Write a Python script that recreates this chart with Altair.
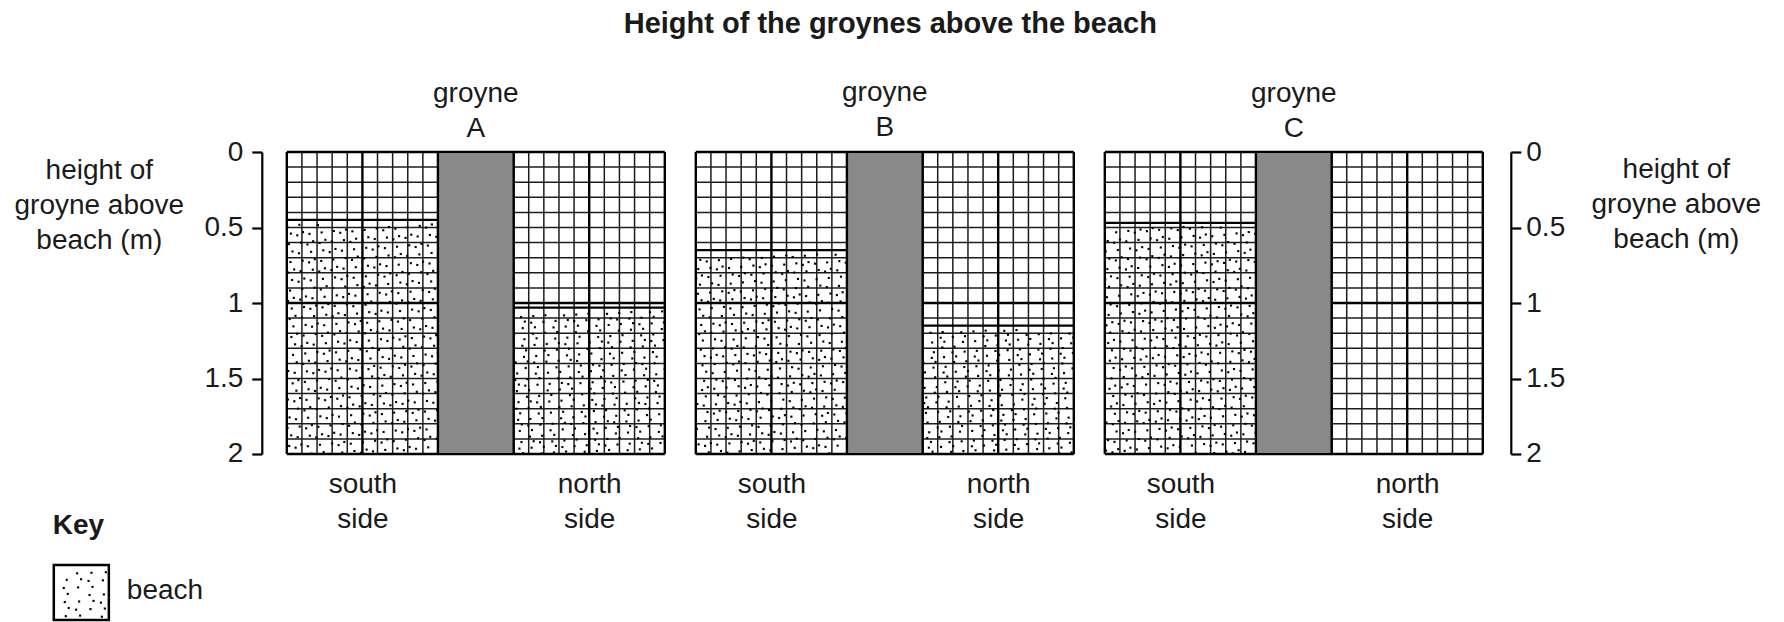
import altair as alt
import numpy as np
import pandas as pd

# ---------------- data ----------------
groynes = ["A", "B", "C"]
# height of groyne above the beach (m) on each side; None = no beach drawn
south_height = [0.45, 0.65, 0.47]
north_height = [1.03, 1.15, None]
side_names = ["south", "north"]
y_ticks = [0, 0.5, 1, 1.5, 2]
title_text = "Height of the groynes above the beach"
axis_title = ["height of", "groyne above", "beach (m)"]
key_title = "Key"
key_label = "beach"

FONT = "Liberation Sans"
TXT = "#1a1a1a"
FS = 28

# panel structure in grid-cell units (one cell = 0.1 m square)
SIDE = 10          # cells per side
GROYNE = 5         # cells for the groyne
TOTAL = 2 * SIDE + GROYNE
DEPTH = 2.0
STEP = 0.1
DENSITY = 3.0      # stipple dots per cell (texture)

xscale = alt.Scale(domain=[0, TOTAL], nice=False, zero=False)
yscale = alt.Scale(domain=[0, DEPTH], reverse=True, nice=False, zero=False)


def stipple(n, start):
    """deterministic low-discrepancy texture (R2 sequence) in the unit square"""
    g = 1.32471795724474602596
    k = np.arange(start, start + n)
    return (0.5 + k / g) % 1.0, (0.5 + k / (g * g)) % 1.0


def grid_frame():
    rows = []
    for c in range(TOTAL + 1):
        if SIDE < c < SIDE + GROYNE:
            continue
        rows.append(dict(x=c, x2=c, y=0.0, y2=DEPTH, major=(c % 5 == 0)))
    for r in range(int(round(DEPTH / STEP)) + 1):
        yv = round(r * STEP, 2)
        rows.append(dict(x=0, x2=TOTAL, y=yv, y2=yv, major=(r % 10 == 0)))
    return pd.DataFrame(rows)


def make_yaxis(i):
    common = dict(values=y_ticks, format="~g", tickSize=10, tickWidth=2.2, tickColor="black",
                  domainWidth=2.2, domainColor="black", grid=False,
                  labelFont=FONT, labelFontSize=FS, labelColor=TXT,
                  title=axis_title, titleFont=FONT, titleFontSize=FS,
                  titleFontWeight="normal", titleColor=TXT, titleAngle=0,
                  titleAlign="center", titleBaseline="middle", titleLineHeight=35.5)
    if i == 0:
        return alt.Axis(orient="left", offset=25, labelPadding=9,
                        titleX=-163, titleY=18, **common)
    if i == len(groynes) - 1:
        return alt.Axis(orient="right", offset=28, labelPadding=5,
                        titleX=165, titleY=17, **common)
    return None


XAXIS = alt.Axis(values=[SIDE / 2, SIDE + GROYNE + SIDE / 2],
                 labelExpr="datum.value < %d ? ['%s', 'side'] : ['%s', 'side']"
                 % (SIDE, side_names[0], side_names[1]),
                 ticks=False, domain=False, grid=False, tickSize=0,
                 labelFont=FONT, labelFontSize=FS, labelColor=TXT,
                 labelLineHeight=35, labelBaseline="middle", labelPadding=31,
                 title=None)


def panel(i):
    levels = [(0, south_height[i]), (SIDE + GROYNE, north_height[i])]
    grid = grid_frame()
    yaxis = make_yaxis(i)

    def X(f="x"):
        return alt.X(f + ":Q", scale=xscale, axis=XAXIS)

    def Y(f="y"):
        return alt.Y(f + ":Q", scale=yscale, axis=yaxis)

    minor = alt.Chart(grid[~grid.major]).mark_rule(color="#1c1c1c", strokeWidth=1.5).encode(
        x=X(), x2="x2:Q", y=Y(), y2="y2:Q")
    major = alt.Chart(grid[grid.major]).mark_rule(color="black", strokeWidth=2.4).encode(
        x=X(), x2="x2:Q", y=Y(), y2="y2:Q")

    dots = []
    lines = []
    for j, (x0, lev) in enumerate(levels):
        if lev is None:
            continue
        n = int(round(DENSITY * SIDE * (DEPTH - lev) / STEP))
        u, v = stipple(n, 1 + 977 * (2 * i + j))
        top = lev + 0.025
        dots.append(pd.DataFrame({"x": x0 + SIDE * u, "y": top + (DEPTH - top) * v}))
        lines.append(dict(x=x0, x2=x0 + SIDE, y=lev))
    dot_df = pd.concat(dots, ignore_index=True)
    line_df = pd.DataFrame(lines)

    dot_layer = alt.Chart(dot_df).mark_square(size=4.5, color="black", opacity=1).encode(
        x=X(), y=Y())
    surface = alt.Chart(line_df).mark_rule(color="black", strokeWidth=2.3).encode(
        x=X(), x2="x2:Q", y=Y())
    groyne_df = pd.DataFrame([dict(x=SIDE, x2=SIDE + GROYNE, y=0.0, y2=DEPTH)])
    groyne = alt.Chart(groyne_df).mark_rect(fill="#898989", stroke="black", strokeWidth=2.2).encode(
        x=X(), x2="x2:Q", y=Y(), y2="y2:Q")

    layers = [minor, major, dot_layer, surface, groyne]

    if i == 0:
        # key (legend) drawn in panel A's coordinates, below-left of the panels
        kx0, kx1, ky0, ky1 = -15.41, -11.77, 2.735, 3.099
        box = alt.Chart(pd.DataFrame([dict(x=kx0, x2=kx1, y=ky0, y2=ky1)])).mark_rect(
            fill="white", stroke="black", strokeWidth=2.5).encode(
            x=X(), x2="x2:Q", y=Y(), y2="y2:Q")
        u, v = stipple(24, 5000)
        kd = pd.DataFrame({"x": kx0 + 0.15 + (kx1 - kx0 - 0.3) * u,
                           "y": ky0 + 0.015 + (ky1 - ky0 - 0.03) * v})
        kdots = alt.Chart(kd).mark_square(size=4.5, color="black", opacity=1).encode(
            x=X(), y=Y())
        ktitle = alt.Chart(pd.DataFrame([dict(x=-15.48, y=2.53, t=key_title)])).mark_text(
            font=FONT, fontSize=FS, fontWeight="bold", color=TXT, align="left",
            baseline="alphabetic").encode(x=X(), y=Y(), text="t:N")
        klabel = alt.Chart(pd.DataFrame([dict(x=-10.58, y=2.91, t=key_label)])).mark_text(
            font=FONT, fontSize=FS, color=TXT, align="left", baseline="middle").encode(
            x=X(), y=Y(), text="t:N")
        layers += [box, kdots, ktitle, klabel]

    has_axis = yaxis is not None
    return alt.layer(*layers).properties(
        width=378, height=302,
        title=alt.TitleParams(["groyne", groynes[i]], font=FONT, fontSize=FS,
                              fontWeight="normal", color=TXT, lineHeight=35,
                              anchor="middle", offset=-5 if has_axis else 8.5),
    )


chart = alt.hconcat(*[panel(i) for i in range(len(groynes))], spacing=27).properties(
    title=alt.TitleParams(title_text, font=FONT, fontSize=29, fontWeight="bold",
                          color=TXT, anchor="middle", offset=40, dx=3),
    padding={"left": 5.8, "top": 2, "right": 0, "bottom": 0},
    background="white",
).configure_view(stroke=None)

chart.save("out.html", embed_options={"renderer": "svg", "actions": False})
